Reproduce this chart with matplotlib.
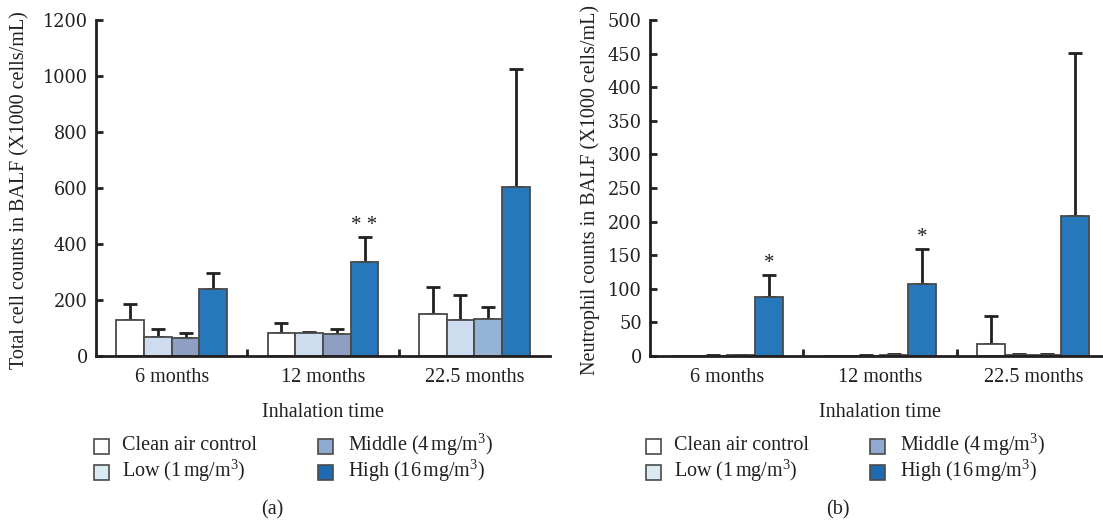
import matplotlib
matplotlib.use('Agg')
import matplotlib.pyplot as plt
import numpy as np
from matplotlib.patches import Rectangle

plt.rcParams['font.family'] = ['Liberation Serif', 'DejaVu Serif']
plt.rcParams['mathtext.fontset'] = 'custom'
plt.rcParams['mathtext.rm'] = 'Liberation Serif'
plt.rcParams['mathtext.it'] = 'Liberation Serif:italic'

# ---- data ----
categories = ['6 months', '12 months', '22.5 months']
groups = ['Clean air control', 'Low (1$\\,$mg/m$^3$)', 'Middle (4$\\,$mg/m$^3$)', 'High (16$\\,$mg/m$^3$)']

# panel (a): total cell counts
total_clean = [127, 81, 150]
total_low = [69, 81, 130]
total_middle = [63, 79, 133]
total_high = [238, 336, 604]
total_clean_err = [58, 36, 97]
total_low_err = [29, 6, 87]
total_middle_err = [20, 19, 43]
total_high_err = [58, 90, 421]
total_marks = {(3, 1): '* *'}

# panel (b): neutrophil counts
neut_clean = [0, 0, 18.5]
neut_low = [0.5, 0.5, 1.0]
neut_middle = [1.0, 1.5, 1.5]
neut_high = [88, 107, 208]
neut_clean_err = [0, 0, 41]
neut_low_err = [0.3, 0.3, 1.5]
neut_middle_err = [0.8, 1.0, 1.5]
neut_high_err = [33, 52, 243]
neut_marks = {(3, 0): '*', (3, 1): '*'}

ink = '#231f20'
edge = '#4a4a4a'
bar_colors = [
    ['#ffffff'] * 3,
    ['#cddcee'] * 3,
    ['#8f9fc4', '#8f9fc4', '#93b4d4'],
    ['#2778bb'] * 3,
]
legend_colors = ['#ffffff', '#dbe9f2', '#8fa9d0', '#1f6ab0']

W, H = 1103, 524
fig = plt.figure(figsize=(W / 100, H / 100), dpi=100)

FS = 14.5
NUMFONT = dict(family='DejaVu Serif', size=12.8)


def make_panel(rect, vals, errs, marks, ylim, ystep, ylabel, ylabel_x, letter, letter_x, ox):
    ax = fig.add_axes(rect)
    x = np.arange(len(categories))
    w = 0.183
    for i in range(4):
        pos = x + (i - 1.5) * w
        ax.bar(pos, vals[i], width=w, color=bar_colors[i], edgecolor=edge,
               linewidth=1.3, zorder=2)
        yerr = np.array([np.zeros(len(categories)), errs[i]])
        ax.errorbar(pos, vals[i], yerr=yerr, fmt='none', ecolor=ink,
                    elinewidth=2, capsize=5, capthick=2, zorder=1)
    for (i, j), txt in marks.items():
        pos = j + (i - 1.5) * w
        ax.text(pos, vals[i][j] + errs[i][j] + ylim * 0.006, txt, ha='center', va='bottom',
                fontsize=15, color=ink)
    ax.set_xlim(-0.5, 2.5)
    ax.set_ylim(0, ylim)
    yt = np.arange(0, ylim + 1, ystep)
    ax.set_yticks(yt)
    ax.set_yticklabels([str(int(v)) for v in yt], fontdict=NUMFONT, color=ink)
    ax.set_xticks(x)
    ax.set_xticklabels(categories, fontsize=FS, color=ink)
    ax.set_xticks([0.5, 1.5], minor=True)
    ax.tick_params(axis='x', which='major', length=0, pad=9)
    ax.tick_params(axis='x', which='minor', direction='in', length=5, width=2, color=ink)
    ax.tick_params(axis='y', direction='in', length=5, width=2, color=ink, pad=6)
    for s in ['top', 'right']:
        ax.spines[s].set_visible(False)
    for s in ['left', 'bottom']:
        ax.spines[s].set_linewidth(2)
        ax.spines[s].set_color(ink)
    ax.set_xlabel('Inhalation time', fontsize=FS, color=ink, labelpad=11)
    fig.text(ylabel_x / W, 1 - 190 / H, ylabel, rotation=90, ha='center', va='center',
             fontsize=FS, color=ink)
    # legend, two columns
    sq = 15
    sq_x = [94 + ox, 318 + ox]
    tx_x = [122 + ox, 348 + ox]
    rows = [446, 472]
    for i in range(4):
        c, r = divmod(i, 2)
        fig.add_artist(Rectangle(((sq_x[c]) / W, 1 - (rows[r] + sq / 2) / H), sq / W, sq / H,
                                 transform=fig.transFigure, facecolor=legend_colors[i],
                                 edgecolor=edge, linewidth=1.2))
        fig.text(tx_x[c] / W, 1 - (rows[r] - 1) / H, groups[i], ha='left', va='center',
                 fontsize=FS, color=ink)
    fig.text(letter_x / W, 1 - 510 / H, letter, ha='center', va='center',
             fontsize=FS, color=ink)
    return ax


ax1 = make_panel([96 / W, 1 - 356 / H, 454 / W, 336 / H],
                 [total_clean, total_low, total_middle, total_high],
                 [total_clean_err, total_low_err, total_middle_err, total_high_err],
                 total_marks, 1200, 200,
                 'Total cell counts in BALF (X1000 cells/mL)', 20, '(a)', 272, 0)
ax2 = make_panel([650 / W, 1 - 356 / H, 460 / W, 336 / H],
                 [neut_clean, neut_low, neut_middle, neut_high],
                 [neut_clean_err, neut_low_err, neut_middle_err, neut_high_err],
                 neut_marks, 500, 50,
                 'Neutrophil counts in BALF (X1000 cells/mL)', 590, '(b)', 838, 552)

fig.savefig('out.png', dpi=100)
